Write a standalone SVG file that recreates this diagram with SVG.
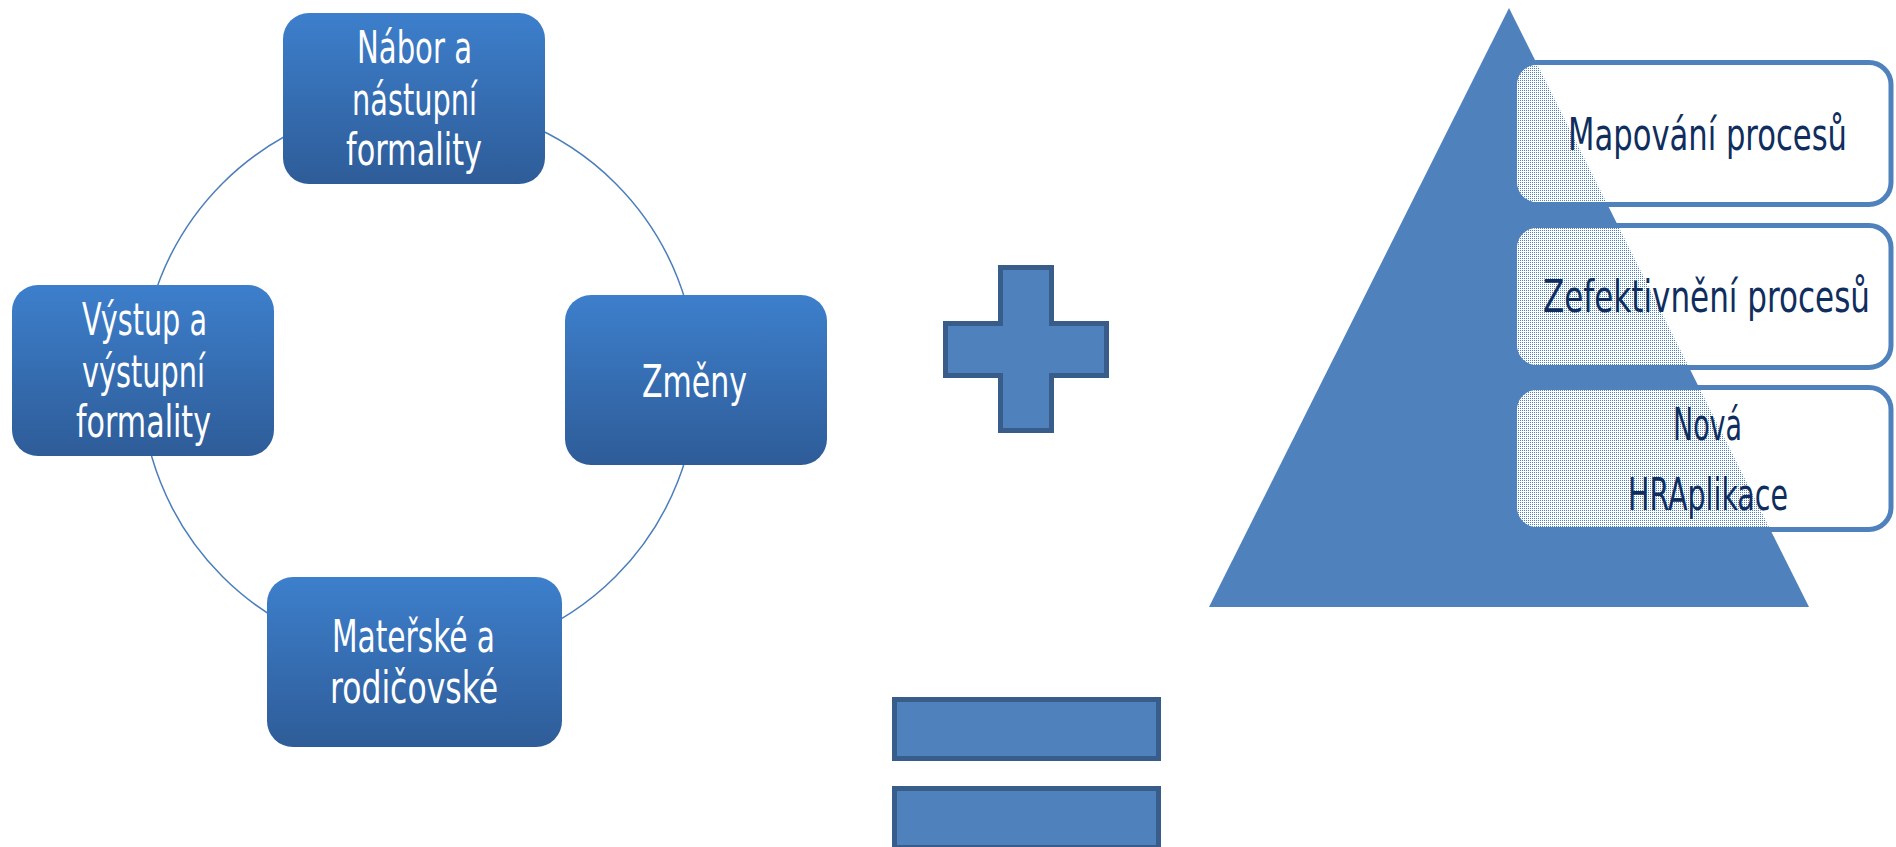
<svg xmlns="http://www.w3.org/2000/svg" width="1896" height="847" viewBox="0 0 1896 847">
<defs>
<linearGradient id="g" x1="0" y1="0" x2="0" y2="1">
<stop offset="0" stop-color="#3d7fcc"/>
<stop offset="1" stop-color="#2e5c98"/>
</linearGradient>
<pattern id="dots" patternUnits="userSpaceOnUse" width="2" height="2">
<rect width="2" height="2" fill="#ffffff"/>
<rect width="1" height="1" fill="#4f81bd"/>
</pattern>
<clipPath id="c1"><rect x="1517" y="65" width="372" height="137" rx="20"/></clipPath>
<clipPath id="c2"><rect x="1517" y="228" width="372" height="137" rx="20"/></clipPath>
<clipPath id="c3"><rect x="1517" y="390" width="372" height="137" rx="20"/></clipPath>
</defs>
<style>
.box{fill:url(#g);}
.nt{font-family:"Liberation Sans Narrow","DejaVu Sans Condensed","Liberation Sans",sans-serif;font-size:44px;fill:#ffffff;text-anchor:middle;}
.pt{font-family:"Liberation Sans Narrow","DejaVu Sans Condensed","Liberation Sans",sans-serif;font-size:44px;fill:#0f2e5e;text-anchor:middle;}
.sym{fill:#4f81bd;stroke:#385d8a;stroke-width:5;}
.pbox{fill:#ffffff;stroke:#4f81bd;stroke-width:5;}
.conn{fill:none;stroke:#4a7ebb;stroke-width:1.5;}
</style>
<rect width="1896" height="847" fill="#ffffff"/>
<g id="connectors">
<path class="conn" d="M419,102 A278,278 0 0 1 697,380"/>
<path class="conn" d="M697,380 A278,278 0 0 1 419,658"/>
<path class="conn" d="M419,658 A278,278 0 0 1 141,380"/>
<path class="conn" d="M141,380 A278,278 0 0 1 419,102"/>
</g>
<g id="node-nabor">
<rect class="box" x="283" y="13" width="262" height="171" rx="26"/>
<text class="nt" x="414.5" y="63" textLength="115" lengthAdjust="spacingAndGlyphs">Nábor a</text>
<text class="nt" x="414.5" y="115" textLength="125" lengthAdjust="spacingAndGlyphs">nástupní</text>
<text class="nt" x="414" y="165" textLength="136" lengthAdjust="spacingAndGlyphs">formality</text>
</g>
<g id="node-vystup">
<rect class="box" x="12" y="285" width="262" height="171" rx="26"/>
<text class="nt" x="144.5" y="335" textLength="125" lengthAdjust="spacingAndGlyphs">Výstup a</text>
<text class="nt" x="143.5" y="387" textLength="123" lengthAdjust="spacingAndGlyphs">výstupní</text>
<text class="nt" x="143.5" y="437" textLength="135" lengthAdjust="spacingAndGlyphs">formality</text>
</g>
<g id="node-zmeny">
<rect class="box" x="565" y="295" width="262" height="170" rx="26"/>
<text class="nt" x="694.5" y="397" textLength="105" lengthAdjust="spacingAndGlyphs">Změny</text>
</g>
<g id="node-materske">
<rect class="box" x="267" y="577" width="295" height="170" rx="26"/>
<text class="nt" x="413.5" y="652" textLength="163" lengthAdjust="spacingAndGlyphs">Mateřské a</text>
<text class="nt" x="414" y="703" textLength="168" lengthAdjust="spacingAndGlyphs">rodičovské</text>
</g>
<g id="plus">
<path class="sym" d="M1000.5,267.5 H1051.5 V323.5 H1106.5 V375.5 H1051.5 V430.5 H1000.5 V375.5 H945.5 V323.5 H1000.5 Z"/>
</g>
<g id="equals">
<rect class="sym" x="894.5" y="699.5" width="264" height="59"/>
<rect class="sym" x="894.5" y="788.5" width="264" height="59"/>
</g>
<g id="pyramid">
<polygon points="1509,8 1809,607 1209,607" fill="#4f81bd"/>
</g>
<g id="level-1">
<rect class="pbox" x="1515" y="62.5" width="376" height="142" rx="22"/>
<polygon points="1509,8 1809,607 1209,607" fill="url(#dots)" clip-path="url(#c1)"/>
<text class="pt" x="1707.5" y="150" textLength="279" lengthAdjust="spacingAndGlyphs">Mapování procesů</text>
</g>
<g id="level-2">
<rect class="pbox" x="1515" y="225.5" width="376" height="142" rx="22"/>
<polygon points="1509,8 1809,607 1209,607" fill="url(#dots)" clip-path="url(#c2)"/>
<text class="pt" x="1706.5" y="312" textLength="327" lengthAdjust="spacingAndGlyphs">Zefektivnění procesů</text>
</g>
<g id="level-3">
<rect class="pbox" x="1515" y="387.5" width="376" height="142" rx="22"/>
<polygon points="1509,8 1809,607 1209,607" fill="url(#dots)" clip-path="url(#c3)"/>
<text class="pt" x="1707.5" y="440" textLength="69" lengthAdjust="spacingAndGlyphs">Nová</text>
<text class="pt" x="1708" y="510" textLength="160" lengthAdjust="spacingAndGlyphs">HRAplikace</text>
</g>
</svg>
